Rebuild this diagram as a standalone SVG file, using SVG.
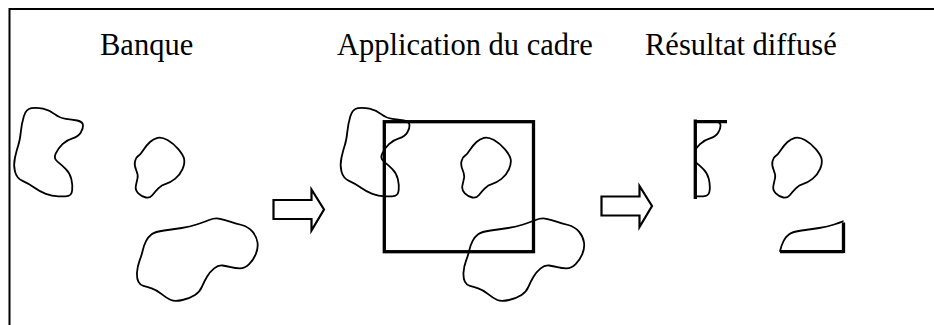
<svg xmlns="http://www.w3.org/2000/svg" xmlns:xlink="http://www.w3.org/1999/xlink" width="934" height="325" viewBox="0 0 934 325">
<style>
.t{font-family:"Liberation Serif","DejaVu Serif","Times New Roman",serif;font-size:30.5px;fill:#000}
.b{fill:none;stroke:#000;stroke-width:1.8;stroke-linejoin:round}
.f{fill:none;stroke:#000;stroke-width:3.3}
.a{fill:#fff;stroke:#000;stroke-width:2.2;stroke-linejoin:miter}
.o{fill:none;stroke:#000;stroke-width:2}
</style>
<defs>
<path id="blob1" d="M23.85,116.15 Q26,109 31.35,108.15 Q36.7,107.3 43,108.65 Q49.3,110 54.65,114.15 Q60,118.3 65.85,118.8 Q71.7,119.3 77.2,120.5 Q82.7,121.7 83,125 Q83.3,128.3 80.8,132.5 Q78.3,136.7 72.5,138.35 Q66.7,140 62.5,144.15 Q58.3,148.3 55.8,153.3 Q53.3,158.3 57.5,161.65 Q61.7,165 65.85,169.15 Q70,173.3 71.35,179.15 Q72.7,185 72.2,190 Q71.7,195 68.35,195.85 Q65,196.7 58.35,196.35 Q51.7,196 45.85,193.85 Q40,191.7 34.15,187.5 Q28.3,183.3 22.5,180.8 Q16.7,178.3 15,171.65 Q13.3,165 15,157.5 Q16.7,150 18.35,145 Q20,140 20.85,131.65 Q21.7,123.3 23.85,116.15 Z"/>
<path id="blob2" d="M157.5,137.85 Q161.7,136.7 167.5,140 Q173.3,143.3 178.3,149.15 Q183.3,155 184.15,159.15 Q185,163.3 182.5,169.15 Q180,175 175,178.85 Q170,182.7 165.85,183.85 Q161.7,185 158.35,188.35 Q155,191.7 152.5,195 Q150,198.3 145.85,197.5 Q141.7,196.7 138.35,193.35 Q135,190 135.85,185.85 Q136.7,181.7 137.5,178.35 Q138.3,175 136.15,170 Q134,165 135,161.15 Q136,157.3 138,156.15 Q140,155 143.35,150 Q146.7,145 150,142 Q153.3,139 157.5,137.85 Z"/>
<path id="blob3" d="M151.65,234.2 Q155,231.7 164.15,230.5 Q173.3,229.3 181.65,228 Q190,226.7 196.65,224.5 Q203.3,222.3 209.15,220 Q215,217.7 220,218.85 Q225,220 230,221.65 Q235,223.3 241.65,225 Q248.3,226.7 252.5,231.7 Q256.7,236.7 257.5,242.5 Q258.3,248.3 255.8,254.15 Q253.3,260 249.15,264.15 Q245,268.3 240,268.3 Q235,268.3 230.85,267.15 Q226.7,266 222.5,265.5 Q218.3,265 214.15,268.35 Q210,271.7 207,276.7 Q204,281.7 202,286.7 Q200,291.7 195,295 Q190,298.3 182.5,300 Q175,301.7 170.85,300 Q166.7,298.3 161.7,294.15 Q156.7,290 151.7,288.35 Q146.7,286.7 143.35,285.85 Q140,285 138.35,281.65 Q136.7,278.3 137,272.5 Q137.3,266.7 139.5,260.85 Q141.7,255 142.85,250 Q144,245 146.15,240.85 Q148.3,236.7 151.65,234.2 Z"/>
<clipPath id="frameclip"><rect x="695.3" y="121.7" width="148.2" height="130"/></clipPath>
<polygon id="arrow" points="273.5,200 311.5,200 311.5,189.5 324,209.5 311.5,230.5 311.5,219 273.5,219"/>
</defs>
<rect width="934" height="325" fill="#fff"/>
<g id="border"><path class="o" d="M9.5,325 V9 H934"/></g>
<g id="titles">
<text id="title-banque" class="t" x="100" y="55">Banque</text>
<text id="title-application" class="t" x="337" y="55">Application du cadre</text>
<text id="title-resultat" class="t" x="645" y="55">Résultat diffusé</text>
</g>
<g id="panel-banque">
<use href="#blob1" xlink:href="#blob1" class="b"/>
<use href="#blob2" xlink:href="#blob2" class="b"/>
<use href="#blob3" xlink:href="#blob3" class="b"/>
</g>
<g id="panel-application">
<g transform="translate(326.5,0)">
<use href="#blob1" xlink:href="#blob1" class="b"/>
<use href="#blob2" xlink:href="#blob2" class="b"/>
<use href="#blob3" xlink:href="#blob3" class="b"/>
</g>
<rect id="cadre" class="f" x="384.3" y="121.7" width="149.2" height="130"/>
</g>
<g id="panel-resultat">
<g clip-path="url(#frameclip)">
<g transform="translate(637.5,0)">
<use href="#blob1" xlink:href="#blob1" class="b"/>
<use href="#blob2" xlink:href="#blob2" class="b"/>
<use href="#blob3" xlink:href="#blob3" class="b"/>
</g>
</g>
<path class="f" d="M695.3,119.5 V199 M695.3,121.7 H727 M780,251.7 H843.5 M843.5,222.5 V253"/>
</g>
<g id="connectors">
<use href="#arrow" xlink:href="#arrow" class="a"/>
<use href="#arrow" xlink:href="#arrow" class="a" transform="translate(328,-3.5)"/>
</g>
</svg>
